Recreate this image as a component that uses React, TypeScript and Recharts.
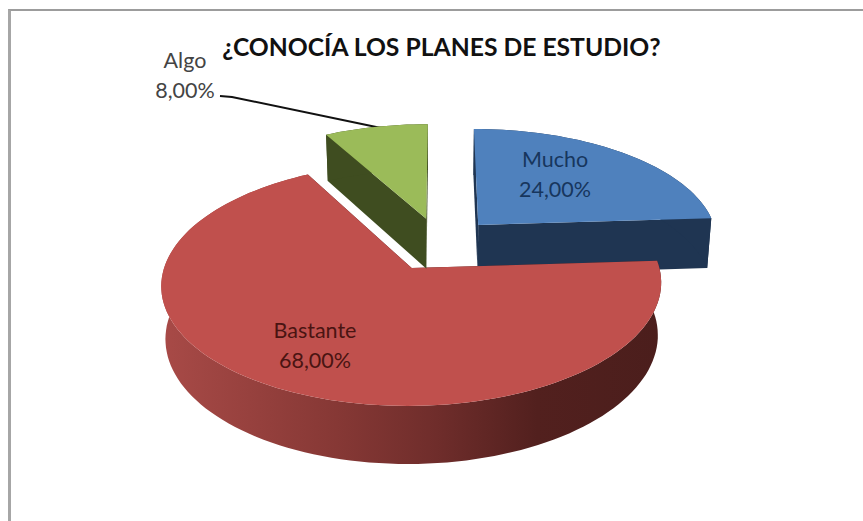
import { PieChart, Pie } from 'recharts'

const CATEGORIES = ['Mucho', 'Bastante', 'Algo']
const VALUES = [24, 68, 8]
const PERCENT_LABELS = ['24,00%', '68,00%', '8,00%']
const TITLE = '¿CONOCÍA LOS PLANES DE ESTUDIO?'

const TOP_COLORS: Record<string, string> = {
  Mucho: '#4f81bd',
  Bastante: '#c0504d',
  Algo: '#9bbb59',
}
const WALL_COLORS: Record<string, string> = {
  Mucho: '#1f3552',
  Bastante: 'url(#bastanteWall)',
  Algo: '#3f4d20',
}
const TEXT_COLORS: Record<string, string> = {
  Mucho: '#17365d',
  Bastante: '#4a1412',
  Algo: '#444444',
}
// label centre, relative to the chart centre
const LABEL_OFFSETS: Record<string, [number, number]> = {
  Mucho: [115, -77],
  Bastante: [-125, 94],
  Algo: [-255, -176],
}

const data = CATEGORIES.map((name, i) => ({
  name,
  value: VALUES[i],
  pct: PERCENT_LABELS[i],
  fill: TOP_COLORS[name],
}))

// fake 3D view of the flat pie
const SQUASH = 0.469
const PERSPECTIVE = 0.13
const EXPLODE = 0.237
const DEPTH = 51
const SHRINK = 0.985
const RAD = Math.PI / 180

function slicePaths(props: any) {
  const { cx, cy, outerRadius: r, startAngle, endAngle, name } = props
  const mid = ((startAngle + endAngle) / 2) * RAD
  const ox = Math.cos(mid) * EXPLODE
  const oz = -Math.sin(mid) * EXPLODE

  const project = (x: number, z: number, bottom: boolean) => {
    const s = 1 / (1 - PERSPECTIVE * z)
    const c = bottom ? SHRINK : 1
    return [
      cx + r * x * s * c,
      cy + r * SQUASH * z * s * c + (bottom ? DEPTH * s : 0),
    ].map((v) => v.toFixed(1)).join(' ')
  }
  const rim = (a: number, bottom: boolean) =>
    project(ox + Math.cos(a * RAD), oz - Math.sin(a * RAD), bottom)

  const angles: number[] = []
  const steps = Math.max(8, Math.ceil(Math.abs(endAngle - startAngle) / 2))
  for (let i = 0; i <= steps; i++) {
    angles.push(startAngle + ((endAngle - startAngle) * i) / steps)
  }
  const apexTop = project(ox, oz, false)
  const apexBottom = project(ox, oz, true)
  const arc = (bottom: boolean) => angles.map((a) => rim(a, bottom))

  return {
    name,
    top: `M${apexTop} L${arc(false).join(' L')} Z`,
    wall: `M${arc(false).join(' L')} L${arc(true).reverse().join(' L')} Z`,
    cutStart: `M${apexTop} L${rim(startAngle, false)} L${rim(startAngle, true)} L${apexBottom} Z`,
    cutEnd: `M${apexTop} L${rim(endAngle, false)} L${rim(endAngle, true)} L${apexBottom} Z`,
  }
}

function Slice3D(props: any) {
  const p = slicePaths(props)
  const wall = WALL_COLORS[p.name]
  const cut = p.name === 'Bastante' ? '#4b1e1c' : wall
  return (
    <g>
      <path d={p.cutStart} fill={cut} />
      <path d={p.cutEnd} fill={cut} />
      <path d={p.wall} fill={wall} />
      <path d={p.top} fill={TOP_COLORS[p.name]} />
    </g>
  )
}

function SliceLabel(props: any) {
  const { name, pct, cx, cy } = props
  const [dx, dy] = LABEL_OFFSETS[name]
  const x = cx + dx
  const y = cy + dy
  return (
    <g>
      <text x={x} y={y} textAnchor="middle" fontFamily="Lato" fontSize={21.5} fill={TEXT_COLORS[name]}>
        {name}
      </text>
      <text x={x} y={y + 29.5} textAnchor="middle" fontFamily="Lato" fontSize={21.5} fill={TEXT_COLORS[name]}>
        {pct}
      </text>
    </g>
  )
}

export default function App() {
  return (
    <div style={{ position: 'absolute', left: 0, top: 0, width: 863, height: 521, background: '#fff', overflow: 'hidden' }}>
      <div style={{ position: 'absolute', left: 8, top: 9, right: 0, bottom: 0, borderTop: '2px solid #9c9c9c', borderLeft: '3px solid #a6a6a6' }} />
      <div style={{ position: 'absolute', left: 0, top: 0 }}>
        <PieChart width={863} height={521} margin={{ top: 0, right: 0, bottom: 0, left: 0 }}>
          <defs>
            <linearGradient id="bastanteWall" gradientUnits="userSpaceOnUse" x1="162" y1="0" x2="662" y2="0">
              <stop offset="0" stopColor="#a84a47" />
              <stop offset="0.35" stopColor="#863835" />
              <stop offset="0.55" stopColor="#6f2d2b" />
              <stop offset="0.75" stopColor="#52201e" />
              <stop offset="1" stopColor="#4b1e1c" />
            </linearGradient>
          </defs>
          <text x={441.5} y={56} textAnchor="middle" fontFamily="Lato" fontWeight={700} fontSize={24.7} fill="#111">
            {TITLE}
          </text>
          <path d="M220 96 L232 97 L381 128" fill="none" stroke="#111" strokeWidth={2} />
          <Pie
            data={data}
            dataKey="value"
            nameKey="name"
            cx={440}
            cy={244}
            innerRadius={0}
            outerRadius={241}
            startAngle={90}
            endAngle={-270}
            stroke="none"
            shape={Slice3D}
            label={SliceLabel}
            labelLine={false}
            isAnimationActive={false}
          />
        </PieChart>
      </div>
    </div>
  )
}
